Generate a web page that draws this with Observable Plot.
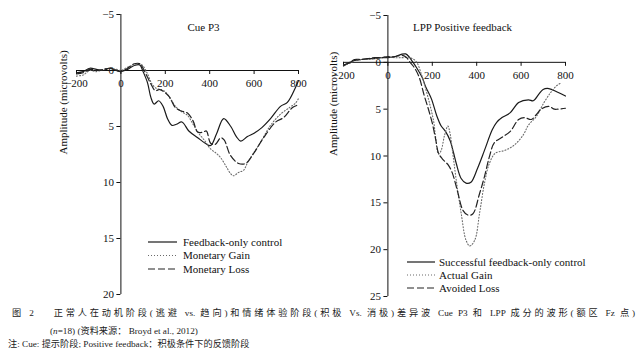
<!DOCTYPE html>
<html>
<head>
<meta charset="utf-8">
<script src="https://cdn.jsdelivr.net/npm/d3@7"></script>
<script src="https://cdn.jsdelivr.net/npm/@observablehq/plot@0.6"></script>
<style>
  html, body { margin: 0; padding: 0; background: #fff; }
  #root { position: relative; width: 644px; height: 361px; overflow: hidden; }
  #panels { position: absolute; left: 0; top: 0; display: flex; }
  #panels svg { overflow: visible; }
  .cap { position: absolute; font-family: "Liberation Serif", "Noto Sans CJK SC", serif; font-size: 9.2px; color: #222; white-space: nowrap; line-height: 12px; }
  #cap1 { left: 12px; top: 307px; width: 623px; text-align: justify; text-align-last: justify; white-space: normal; }
  #cap2 { left: 50px; top: 325px; }
  #cap3 { left: 8px; top: 338px; }
</style>
</head>
<body>
<div id="root">
  <div id="panels"></div>
  <div class="cap" id="cap1">图 2　 正常人在动机阶段(逃避 vs. 趋向)和情绪体验阶段(积极 Vs. 消极)差异波 Cue P3 和 LPP 成分的波形(额区 Fz 点)</div>
  <div class="cap" id="cap2">(<i>n</i>=18) (资料来源： Broyd et al., 2012)</div>
  <div class="cap" id="cap3">注: Cue: 提示阶段; Positive feedback：积极条件下的反馈阶段</div>
</div>
<script>
// ---------- Data (time ms, amplitude µV) ----------
const xTicks = [-200, 0, 200, 400, 600, 800];
const cueYTicks = [-5, 0, 5, 10, 15, 20];
const lppYTicks = [-5, 0, 5, 10, 15, 20, 25];

const cueTitle = "Cue P3";
const lppTitle = "LPP Positive feedback";
const yLabel = "Amplitude (microvolts)";
const cueSeriesNames = ["Feedback-only control", "Monetary Gain", "Monetary Loss"];
const lppSeriesNames = ["Successful feedback-only control", "Actual Gain", "Avoided Loss"];

// Cue P3 panel
const cueControl = [[-200,0.2],[-170,0.1],[-140,-0.2],[-110,-0.1],[-80,0.0],[-50,-0.2],[-20,0.0],[0,0.1],[30,-0.1],[60,-0.45],[85,-0.5],[100,0.1],[120,1.1],[135,2.4],[150,3.0],[170,2.7],[190,3.2],[210,4.3],[230,4.9],[250,4.8],[275,4.6],[306,5.4],[346,6.0],[380,6.5],[404,6.7],[430,5.7],[463,4.3],[495,5.0],[520,5.9],[540,6.3],[570,5.9],[600,5.6],[635,5.1],[674,4.3],[719,3.2],[750,2.85],[787,1.5],[800,0.9]];
const cueGain = [[-200,0.5],[-170,0.4],[-140,0.0],[-110,0.1],[-80,-0.1],[-50,-0.2],[-20,-0.1],[0,0.0],[30,-0.3],[60,-0.5],[85,-0.6],[100,-0.4],[120,0.3],[140,1.2],[160,1.6],[180,1.7],[200,1.9],[225,2.6],[250,3.3],[275,3.7],[300,4.0],[325,4.8],[350,5.6],[375,6.2],[404,7.0],[430,7.4],[450,7.8],[475,8.6],[494,9.2],[508,9.4],[530,9.1],[553,8.9],[571,8.2],[600,7.3],[629,6.4],[674,4.9],[719,3.9],[760,3.3],[787,2.9],[800,2.5]];
const cueLoss = [[-200,0.3],[-170,0.2],[-140,-0.1],[-110,0.0],[-80,-0.1],[-50,-0.2],[-20,0.0],[0,0.1],[30,-0.2],[60,-0.6],[85,-0.6],[100,-0.2],[115,0.4],[135,1.2],[155,1.8],[175,1.7],[200,2.0],[220,2.4],[245,3.3],[270,3.6],[300,3.8],[325,4.5],[346,5.5],[370,5.5],[385,5.4],[404,6.5],[425,6.6],[450,6.0],[465,6.2],[494,7.6],[530,8.3],[562,8.3],[598,7.4],[643,6.0],[697,4.6],[733,4.2],[773,3.3],[795,3.1]];

// LPP positive feedback panel
const lppControl = [[-200,0.4],[-170,0.0],[-150,-0.3],[-120,-0.3],[-90,-0.4],[-60,-0.4],[-30,-0.5],[0,-0.5],[30,-0.6],[60,-0.85],[80,-0.9],[95,-0.6],[110,-0.1],[130,0.6],[154,1.6],[170,2.6],[196,3.9],[220,5.7],[240,6.8],[260,7.4],[281,8.4],[295,9.6],[308,10.8],[330,12.4],[352,12.9],[374,12.8],[404,11.3],[435,9.4],[470,7.2],[490,6.4],[514,5.9],[550,5.4],[589,4.3],[633,4.0],[655,4.1],[680,3.4],[699,2.9],[725,2.8],[765,3.2],[800,3.6]];
const lppGain = [[-200,0.3],[-170,0.1],[-150,-0.2],[-120,-0.3],[-90,-0.3],[-60,-0.4],[-30,-0.5],[0,-0.6],[30,-0.5],[60,-0.5],[90,-0.5],[110,-0.4],[130,0.0],[150,1.2],[171,2.9],[190,4.6],[206,6.3],[215,8.0],[228,9.8],[240,9.4],[255,7.8],[270,6.8],[280,7.6],[290,9.3],[308,12.6],[330,16.1],[352,19.0],[369,19.6],[391,19.0],[413,16.1],[435,12.9],[457,10.8],[484,9.7],[527,9.4],[571,8.8],[611,7.7],[633,6.7],[668,5.8],[703,4.3],[734,3.2],[760,2.5],[780,2.2]];
const lppLoss = [[-200,0.3],[-170,0.0],[-150,-0.2],[-120,-0.3],[-90,-0.4],[-60,-0.5],[-30,-0.5],[0,-0.6],[30,-0.6],[60,-0.75],[80,-0.6],[100,0.0],[120,0.6],[141,1.6],[163,3.5],[180,4.8],[200,6.5],[215,8.2],[228,9.7],[245,10.3],[273,11.0],[290,11.8],[305,13.0],[316,14.0],[338,15.8],[360,16.3],[382,16.2],[413,14.0],[435,12.2],[457,10.1],[479,8.6],[514,8.0],[550,7.4],[589,6.1],[615,5.9],[646,6.1],[668,5.6],[690,5.0],[725,4.7],[750,5.0],[765,5.0],[800,4.9]];

// ---------- Styles ----------
const styles = [
  {stroke: "#1a1a1a", strokeWidth: 1.2, strokeDasharray: null},
  {stroke: "#6a6a6a", strokeWidth: 1.1, strokeDasharray: "1,2"},
  {stroke: "#222", strokeWidth: 1.2, strokeDasharray: "7,3"}
];
const FONT = "'Liberation Serif', serif";
const fmt = d => d < 0 ? "\u2212" + (-d) : String(d);

function panel({width, height, mL, mR, mT, mB, yDomain, yTicks, series, names, title, titleDx, titleDy, labelDx, legend}) {
  const innerW = width - mL - mR, innerH = height - mT - mB;
  const x0 = innerW * (0 - (-200)) / 1000;
  const y0 = mT + innerH * (0 - yDomain[0]) / (yDomain[1] - yDomain[0]);
  const lines = series.map((s, i) => Plot.line(s.map(([t, v]) => ({t, v})), {
    x: "t", y: "v", curve: "catmull-rom",
    stroke: styles[i].stroke, strokeWidth: styles[i].strokeWidth,
    strokeDasharray: styles[i].strokeDasharray
  }));
  const svg = Plot.plot({
    width, height, marginLeft: mL, marginRight: mR, marginTop: mT, marginBottom: mB,
    style: {fontFamily: FONT, fontSize: "11px", color: "#111", background: "transparent", overflow: "visible"},
    x: {domain: [-200, 800]},
    y: {domain: yDomain, reverse: true},
    marks: [
      Plot.ruleX([0], {stroke: "#111", strokeWidth: 1}),
      Plot.ruleY([0], {stroke: "#111", strokeWidth: 1}),
      Plot.axisY(yTicks, {anchor: "left", dx: x0, tickSize: 4, tickPadding: 3, tickFormat: fmt, fontSize: 11, label: null}),
      Plot.axisX(xTicks, {anchor: "bottom", dy: y0 - (height - mB), tickSize: 4, tickPadding: 5, tickFormat: fmt, fontSize: 11, label: null}),
      ...lines,
      Plot.text([title], {frameAnchor: "top", dx: titleDx, dy: titleDy, lineAnchor: "middle", fontSize: 11, fill: "#111"}),
      Plot.text([yLabel], {frameAnchor: "left", dx: labelDx, rotate: -90, fontSize: 11, fill: "#111"})
    ]
  });
  // legend overlay (pixel layout)
  const g = d3.select(svg).append("g").attr("font-family", FONT).attr("font-size", 11).attr("text-anchor", "start");
  names.forEach((n, i) => {
    const yy = legend.y + i * legend.gap;
    g.append("line").attr("x1", legend.x1).attr("x2", legend.x2).attr("y1", yy).attr("y2", yy)
      .attr("stroke", styles[i].stroke).attr("stroke-width", styles[i].strokeWidth)
      .attr("stroke-dasharray", styles[i].strokeDasharray);
    g.append("text").attr("x", legend.tx).attr("y", yy).attr("dy", "0.32em").attr("fill", "#111").text(n);
  });
  return svg;
}

const container = document.getElementById("panels");
container.append(panel({
  width: 322, height: 300, mL: 76, mR: 24, mT: 14, mB: 6,
  yDomain: [-5, 20], yTicks: cueYTicks,
  series: [cueControl, cueGain, cueLoss], names: cueSeriesNames,
  title: cueTitle, titleDx: 16, titleDy: 13, labelDx: -13,
  legend: {x1: 148, x2: 177, tx: 183, y: 242, gap: 13.5}
}));
container.append(panel({
  width: 322, height: 300, mL: 21, mR: 79, mT: 15, mB: 4,
  yDomain: [-5, 25], yTicks: lppYTicks,
  series: [lppControl, lppGain, lppLoss], names: lppSeriesNames,
  title: lppTitle, titleDx: 8, titleDy: 12, labelDx: -10,
  legend: {x1: 85, x2: 113, tx: 117, y: 262, gap: 13}
}));
</script>
</body>
</html>
